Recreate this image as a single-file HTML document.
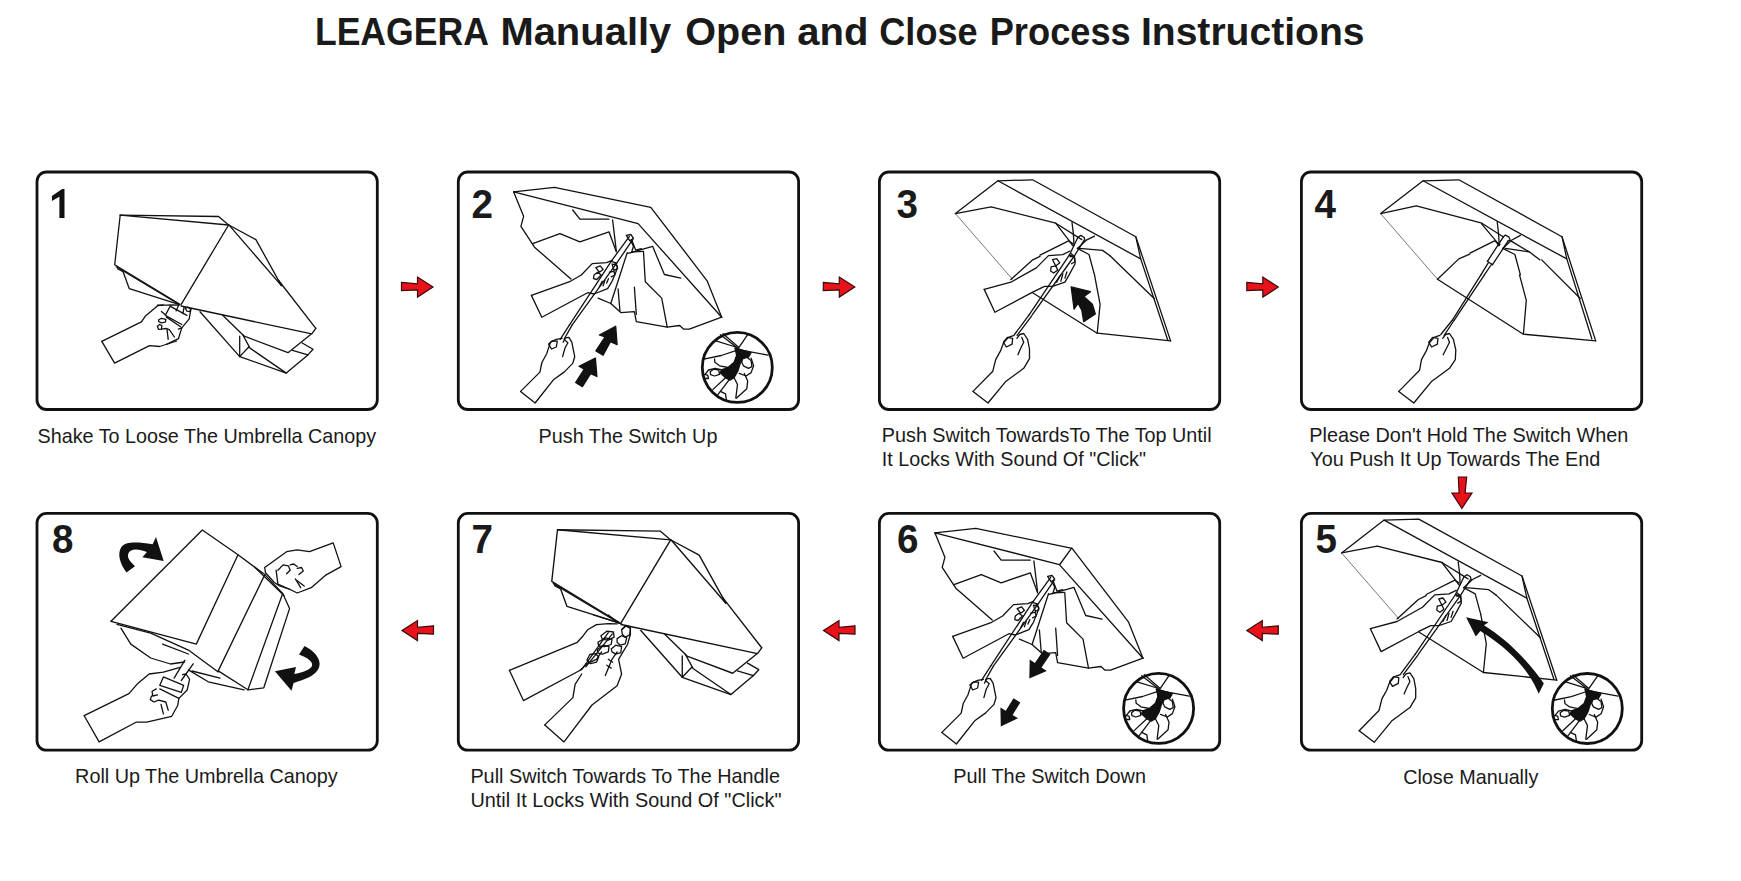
<!DOCTYPE html>
<html><head><meta charset="utf-8">
<style>
html,body{margin:0;padding:0;background:#fff;}
body{width:1741px;height:881px;overflow:hidden;position:relative;}
svg{position:absolute;left:0;top:0;}
.t{font-family:"Liberation Sans",sans-serif;fill:#1a1a1a;}
</style></head><body>
<svg width="1741" height="881" viewBox="0 0 1741 881">
<defs>
<path id="arR" d="M0 -4.2 L16 -2.6 L16 -9.5 L31.5 0.6 L16 10.6 L16 3.4 L0 4.2 Z"/>
</defs>
<g class="t" font-size="38.5" font-weight="bold" fill="#1f1c1d">
<text x="314.9" y="44.8" textLength="174.0" lengthAdjust="spacingAndGlyphs">LEAGERA</text>
<text x="500.4" y="44.8" textLength="170.9" lengthAdjust="spacingAndGlyphs">Manually</text>
<text x="685.3" y="44.8" textLength="101.1" lengthAdjust="spacingAndGlyphs">Open</text>
<text x="797.3" y="44.8" textLength="71.2" lengthAdjust="spacingAndGlyphs">and</text>
<text x="879.3" y="44.8" textLength="98.3" lengthAdjust="spacingAndGlyphs">Close</text>
<text x="989.7" y="44.8" textLength="141.1" lengthAdjust="spacingAndGlyphs">Process</text>
<text x="1140.9" y="44.8" textLength="223.7" lengthAdjust="spacingAndGlyphs">Instructions</text>
</g>
<g fill="none" stroke="#111" stroke-width="2.8">
<rect x="37" y="172" width="340.3" height="237.5" rx="9.5"/>
<rect x="458.3" y="172" width="340.3" height="237.5" rx="9.5"/>
<rect x="879.4" y="172" width="340.3" height="237.5" rx="9.5"/>
<rect x="1301.4" y="172" width="340.3" height="237.5" rx="9.5"/>
<rect x="37" y="513.4" width="340.3" height="236.8" rx="9.5"/>
<rect x="458.3" y="513.4" width="340.3" height="236.8" rx="9.5"/>
<rect x="879.4" y="513.4" width="340.3" height="236.8" rx="9.5"/>
<rect x="1301.4" y="513.4" width="340.3" height="236.8" rx="9.5"/>
</g>
<g class="t" font-size="41.5" font-weight="bold" fill="#111">
<text x="471.5" y="218" textLength="21.5" lengthAdjust="spacingAndGlyphs">2</text>
<text x="896.5" y="218" textLength="21.5" lengthAdjust="spacingAndGlyphs">3</text>
<text x="1314.5" y="218" textLength="21.5" lengthAdjust="spacingAndGlyphs">4</text>
<text x="52" y="553" textLength="21.5" lengthAdjust="spacingAndGlyphs">8</text>
<text x="471.5" y="552.5" textLength="21.5" lengthAdjust="spacingAndGlyphs">7</text>
<text x="897" y="553" textLength="21.5" lengthAdjust="spacingAndGlyphs">6</text>
<text x="1315.5" y="553" textLength="21.5" lengthAdjust="spacingAndGlyphs">5</text>
</g>
<g class="t" font-size="19.8">
<text x="37.5" y="442.6" textLength="338.6" lengthAdjust="spacingAndGlyphs">Shake To Loose The Umbrella Canopy</text>
<text x="538.6" y="442.6" textLength="178.8" lengthAdjust="spacingAndGlyphs">Push The Switch Up</text>
<text x="881.8" y="442.4" textLength="329.8" lengthAdjust="spacingAndGlyphs">Push Switch TowardsTo The Top Until</text>
<text x="881.8" y="465.7" textLength="264.2" lengthAdjust="spacingAndGlyphs">It Locks With Sound Of "Click"</text>
<text x="1309.3" y="442.4" textLength="319.0" lengthAdjust="spacingAndGlyphs">Please Don't Hold The Switch When</text>
<text x="1310.3" y="465.7" textLength="289.9" lengthAdjust="spacingAndGlyphs">You Push It Up Towards The End</text>
<text x="75.1" y="783.4" textLength="262.5" lengthAdjust="spacingAndGlyphs">Roll Up The Umbrella Canopy</text>
<text x="470.4" y="783.3" textLength="309.6" lengthAdjust="spacingAndGlyphs">Pull Switch Towards To The Handle</text>
<text x="470.4" y="806.7" textLength="311.1" lengthAdjust="spacingAndGlyphs">Until It Locks With Sound Of "Click"</text>
<text x="953.2" y="783.4" textLength="192.8" lengthAdjust="spacingAndGlyphs">Pull The Switch Down</text>
<text x="1403.2" y="783.6" textLength="135.1" lengthAdjust="spacingAndGlyphs">Close Manually</text>
</g>
<g fill="#e8121b" stroke="#3a0a0a" stroke-width="1.2" stroke-linejoin="miter">
<use href="#arR" transform="translate(401.5,286.5)"/>
<use href="#arR" transform="translate(823.3,286.5)"/>
<use href="#arR" transform="translate(1246.8,286.5)"/>
<use href="#arR" transform="translate(433.5,630) scale(-1,1)"/>
<use href="#arR" transform="translate(855,630) scale(-1,1)"/>
<use href="#arR" transform="translate(1278.3,630) scale(-1,1)"/>
<use href="#arR" transform="translate(1462.5,477) rotate(90)"/>
</g>
<path d="M62.1 189 L51.9 196.1 L51.9 200.9 L59.4 196.8 L59.4 217.9 L64.5 217.9 L64.5 189 Z" fill="#111"/>
<g fill="none" stroke="#111" stroke-width="1.3" stroke-linejoin="round" stroke-linecap="round">
<path d="M120.2 215.2 L218.6 216.5 L228.6 225"/>
<path d="M120.2 215.2 L228.6 225"/>
<path d="M120.2 215.2 L114.7 264.7 L179.9 304.3"/>
<path d="M116.2 266.8 L178.7 304.3"/>
<path d="M117.5 268.7 L123.1 271.8 L129.3 288.7 L178.7 304.3"/>
<path d="M228.6 225 L181.2 304.3"/>
<path d="M229.3 225.3 L255.9 239.6 L281.4 285.6"/>
<path d="M229.3 225.3 L281.4 285.6"/>
<path d="M278.3 280 L315.8 328.3"/>
<path d="M315.8 328.3 L311.8 333.9 L181 306"/>
<path d="M200 311.8 L239.7 356.6"/>
<path d="M222.7 315.2 L244.3 336.2 L288 352.7 L310.7 334.5"/>
<path d="M239.7 336.2 L239.7 356.6 L248.8 347"/>
<path d="M242.6 334.5 L250 348.1 L286.3 373.1"/>
<path d="M239.7 356.6 L286.3 373.1 L307.9 354.9 L313 349.3 L302.2 343"/>
<path d="M292.5 350.4 L307.9 354.9"/>
<path d="M101.8 341.4 L114.6 363.1 L149.5 345.7 L159.7 346.5 L176.7 341"/>
<path d="M101.8 341.4 L141.4 321.8 L145.2 316.3 L158 305.6 L163.1 305"/>
<path d="M157.4 305.2 L167 305.2 L171 304.9 L179.5 305.2"/>
<path d="M170.4 305.8 L165.3 315.4 L181.8 324.5"/>
<path d="M170.4 306.4 L186.9 315.4"/>
<path d="M166.5 317.1 L180.6 326.8"/>
<path d="M190.9 309.2 L189.2 318.8 L181.8 327.9 L178.4 338.7 L166.5 344.4"/>
<path d="M178.4 305.8 L176.1 310.9"/>
<path d="M184.1 306.9 L182.9 313.7"/>
<path d="M185.2 308.1 L188 307.2 L190.9 309.2 L189.7 311.5 L186.9 311.2 Z"/>
<path d="M158.5 320 L161.4 318.3 L165.9 319.4 L165.3 322.2 L161.4 322.8 L158.8 321.7 Z"/>
<path d="M157.4 326.2 L159.6 324.5 L161.9 325.6 L161.4 329.1 L158.5 329.3 Z"/>
<path d="M161.4 329.1 L166.5 328.5 L169.3 329.6 L174.4 337"/>
<path d="M167 329.1 L168.2 339.3"/>
<path d="M161.4 311.5 L164.8 314.3"/>
<path d="M181.8 327.9 L178.4 329.1"/>
<path d="M513.6 191.8 L554.5 187.3 L650.8 207.3 L707.1 280.8 L721.7 317.2"/>
<path d="M513.6 191.8 L638.1 223.6 L721.7 317.2"/>
<path d="M513.6 191.8 L523.6 216.3 L520.9 226.3 L534.5 247.2 L570.9 279"/>
<path d="M532.7 243.6 L560 233.6 L579.9 241.8 L609 231.8 L616.3 251.8"/>
<path d="M572.7 210 L579.9 219.1 L609 219.1"/>
<path d="M612.6 220 L616.3 250.9"/>
<path d="M630.8 252.7 L652.6 246.3 L664.4 274.5 L680.8 278.1"/>
<path d="M643.5 251.8 L645.3 281.7 L661.7 298.1 L667.2 327.2 L679.7 325.5 L683.7 329.2 L689.3 329.2 L721.7 317.2"/>
<path d="M627.2 252.7 L610.8 303.5"/>
<path d="M618.1 289 L619.9 310.8"/>
<path d="M634.4 287.2 L636.3 314.4"/>
<path d="M598.1 298.1 L610.8 303.5 L620.8 312.6 L634.4 311.7 L636.3 321.7 L667.2 327.2"/>
<path d="M626.3 235.4 L630.8 234.5 L633.5 238.1 L629.9 240.9 Z"/>
<path d="M569.5 324.9 L611.2 261.3 L629.4 236.4"/>
<path d="M572.2 324.9 L616.7 263.2 L633 239.1"/>
<path d="M611.2 261.3 L616.7 263.2"/>
<path d="M531.4 295.4 L541.8 317.2 L587.6 292.7 L594 294 L607.6 288.6 L612.1 281.3 L615.8 272.2 L617.6 266.8 L614.9 263.2"/>
<path d="M531.4 295.4 L570.4 281.3 L581.3 275 L592.2 263.6 L606.7 262.7 L612.1 260.4"/>
<path d="M595.8 267.7 L600.3 265.9 L603.1 269.5 L599.4 272.2 L595.8 267.7"/>
<path d="M594 275 L597.6 272.2 L601.2 275 L596.7 279.5 L593.5 278.6 L594 275"/>
<path d="M612.1 264.1 L616.7 265 L617.6 268.6 L614 270.4 L612.1 264.1"/>
<path d="M609.4 272.2 L614 271.3 L614.9 275 L611.2 276.8"/>
<path d="M599.4 286.8 L602.2 281.3"/>
<path d="M603.1 285.8 L604.9 280.4"/>
<path d="M606.7 283.1 L608.5 278.6"/>
<path d="M520.6 391.4 L535.1 403 L553.4 379.8 L564.1 372.1 L572.7 363.4 L574.7 356.7 L571.8 342.2 L568.9 337.4 L565.5 337.9 L563.1 342.2"/>
<path d="M520.6 391.4 L539.9 372.1 L541.9 362.5 L546.7 353.8 L547.6 350.9 L550.5 342.2 L556.3 339.3 L562.1 338.3"/>
<path d="M565 340.3 L567.9 342.7 L565 348 L562.6 356.7"/>
<path d="M548.6 344.1 L552.5 340.8 L557.3 341.2 L556.3 347 L551.5 349 Z"/>
<path d="M560.2 339.3 L569.5 324.9"/>
<path d="M564.1 339.3 L572.2 324.9"/>
<path d="M631.8 239.9 L635.7 250.2 L641.3 248.6"/>
<path d="M627.8 253.4 L633.4 251.8 L643.3 251.4"/>
<path d="M630.6 240.3 L633.4 246.2 L631.8 251.8"/>
<path d="M595.4 358.1 L596.9 376.5 L590.6 373.6 L582.4 386.6 L575.6 382.5 L584.3 369.2 L579 366.3 Z" fill="#111"/>
<path d="M615.7 326.3 L617.1 344.6 L610.4 341.7 L603.1 355.2 L595.9 350.9 L605.1 336.9 L599.3 335 Z" fill="#111"/>
<g id="ins"><circle cx="737.3" cy="367.4" r="35" stroke-width="2.8"/>
<path d="M734.9 347.9 L751.1 352.6 L748.5 357.2 L742.6 358.1 L740 364.1 L737.9 370.9 L734.1 377.7 L729.8 380.2 L725.5 377.7 L720 372.6 L722.1 369.6 L728.1 367.5 L734.1 362.3 L736.6 355.5 L735.8 351.3 Z" fill="#111"/>
<path d="M720.4 334.7 L737.5 347.9"/>
<path d="M723 333.8 L738.3 347"/>
<path d="M714.9 340.6 L735.8 347"/>
<path d="M747.7 334.7 L738.3 348.3"/>
<path d="M738.3 349.6 L768.1 355.1"/>
<path d="M702.6 359.4 L721.3 355.5 L736.6 350.4"/>
<path d="M742.6 358.9 L746.8 357.2 L751.1 360.6 L751.9 366.6 L748.5 368.3 L743.4 365.8 L741.7 362.3 Z"/>
<path d="M751.1 358.1 L753.6 365.8 L751.1 372.6 L746 376 L739.2 373.4"/>
<path d="M714.5 358.9 L714.9 362.3 L719.6 365.8 L728.1 367.5"/>
<path d="M705.1 374.3 L708.5 370 L715.3 368.3 L722.1 370"/>
<path d="M710.2 371.7 L713.6 369.2 L718.7 370 L719.6 374.3 L714.5 376 L710.6 374.7 Z"/>
<path d="M703.4 374.3 L707.7 375.1 L708.5 378.5 L704.3 378.5"/>
<path d="M725.5 377.7 L712.8 389.6"/>
<path d="M728.9 380.2 L717.9 394.7"/>
<path d="M734.1 377.7 L737.5 384.5 L735.8 398.1"/>
<path d="M744.3 373.4 L747.7 381.1 L746.8 388.7 L736.6 398.1"/>
<path d="M720.4 391.3 L725.5 393.8 L726.4 399.8"/>
</g>
<path d="M955.4 213.6 L997.9 180.8 L1032.6 179.8 L1135.8 236.7 L1170.6 340.9"/>
<path d="M997.9 180.8 L1140.7 258.9 L1167.7 340"/>
<path d="M1135.8 236.7 L1140.7 258.9"/>
<path d="M955.4 213.6 L991.1 206.8 L1055.8 223.2 L1081.8 239.6"/>
<path d="M955.4 213.6 L1012.4 279.2" stroke-width="0.8" stroke="#555"/>
<path d="M1032.6 292.7 L1097.2 333.2 L1170.6 340.9"/>
<path d="M1094.5 274.9 L1100.1 304.3 L1097.2 333.2"/>
<path d="M1110 255.8 L1154.2 298.5"/>
<path d="M1010.8 279.6 L1032.2 260.2 L1040 256.3"/>
<path d="M984.2 289.4 L994.9 312.3 L1032.2 292.4 L1044.5 286.3 L1052.6 286.3 L1064.9 282.2 L1069 275.1 L1075.1 263.8 L1074.6 256.7 L1071 253.6"/>
<path d="M984.2 289.4 L1010.8 282.2 L1036.3 267.9 L1048.5 255.6 L1062.8 254.6 L1070 251"/>
<path d="M1052.6 259.7 L1056.7 258.7 L1059.8 262.8 L1055.7 265.9 L1052.6 259.7"/>
<path d="M1051.1 266.9 L1055.7 265.9 L1057.7 269.9 L1053.7 273 L1050.6 271 L1051.1 266.9"/>
<path d="M1070 256.7 L1074.1 256.7 L1075.1 261.8 L1071.5 263.8"/>
<path d="M1056.7 282.2 L1059.8 276.1"/>
<path d="M1060.8 281.2 L1062.8 274"/>
<path d="M1064.9 278.1 L1066.9 272"/>
<path d="M1029.1 314.9 L1069.3 255.2"/>
<path d="M1032.2 314.9 L1074 256.5"/>
<path d="M1040 255.2 L1068.6 240.9 L1072.7 243.6"/>
<path d="M1077.4 248.4 L1089 254.5 L1094.5 274.9"/>
<path d="M1079.5 248.4 L1102.6 250.4 L1110 255.8"/>
<path d="M1055.7 223.2 L1069.3 240.9 L1072.7 245.6"/>
<path d="M1072 222.5 L1073.4 234.1 L1074 245.6"/>
<path d="M1094.5 236.1 L1086.3 240.2 L1077.4 248.4"/>
<path d="M1069.3 255.2 L1077.8 237.5"/>
<path d="M1074 256.5 L1084.2 240.2"/>
<path d="M1069.3 255.2 L1074 256.5"/>
<path d="M1077.8 237.5 L1080.8 235.4 L1084.2 237.5 L1084.9 240.2"/>
<path d="M973 391.4 L988 403 L1005.4 381.8 L1023.7 368.3 L1029.5 358.6 L1029.5 349 L1027.6 339.3 L1023.7 333.5 L1019.8 334.5 L1016.9 338.3"/>
<path d="M973 391.4 L992.8 371.2 L995.7 359.6 L1000.5 350.9 L1003.4 343.2 L1008.3 337.4 L1014.1 335.4"/>
<path d="M1021.8 337.4 L1023.7 342.2 L1020.8 348 L1017.9 354.7"/>
<path d="M1003.4 342.2 L1007.3 337.4 L1012.6 338.3 L1012.1 344.1 L1006.3 347 Z"/>
<path d="M1014.5 334.5 L1029.1 314.9"/>
<path d="M1017.1 335.4 L1031.7 315.8"/>
<path d="M1071.2 286.9 L1090.5 291.7 L1083.7 296.6 L1092.4 304.3 L1095.3 313.9 L1083.7 321.6 L1081.8 310.1 L1078 303.3 L1074.1 309.1 Z" fill="#111"/>
<path d="M1380.6 213.6 L1423.1 180.8 L1458.8 179.8 L1562 236.7 L1595.7 340.9"/>
<path d="M1423.1 180.8 L1566.8 258.9 L1591.9 339"/>
<path d="M1562 236.7 L1566.8 258.9"/>
<path d="M1380.6 213.6 L1416.3 205.9 L1481.9 223.2 L1503.1 236.7"/>
<path d="M1380.6 213.6 L1437.5 279.2" stroke-width="0.8" stroke="#555"/>
<path d="M1437.5 279.2 L1523.4 334.2 L1595.7 340.9"/>
<path d="M1437.5 279.2 L1458.8 258.9 L1469.7 254.1"/>
<path d="M1519.5 274.9 L1526.3 300.4 L1523.4 334.2"/>
<path d="M1541.7 259.9 L1580.3 298.5"/>
<path d="M1480.9 274.9 L1452.4 320.1"/>
<path d="M1484.4 274.9 L1454.3 320.1"/>
<path d="M1470 253.1 L1494.5 240.9 L1500 244.3"/>
<path d="M1502.7 248.4 L1514.9 254.5 L1520.4 274.9"/>
<path d="M1505.4 248.4 L1529.2 251.8 L1540 259.9"/>
<path d="M1481.6 223.8 L1495.9 240.9 L1498.6 245.6"/>
<path d="M1497.2 221.8 L1498.6 234.1 L1499.3 245.6"/>
<path d="M1520.4 235.4 L1511.5 240.2 L1502.7 248.4"/>
<path d="M1510.8 240.9 L1529.2 251.8"/>
<path d="M1487.4 261.3 L1503.4 236.8"/>
<path d="M1492.5 264.7 L1508.1 240.9"/>
<path d="M1487.4 261.3 L1492.5 264.7"/>
<path d="M1503.4 236.8 L1505.4 235.1 L1508.8 236.8 L1510.2 240.2 L1508.1 240.9"/>
<path d="M1480.9 274.9 L1488.4 262.7"/>
<path d="M1484.3 274.9 L1491.8 264"/>
<path d="M1398.8 391.4 L1413.8 403 L1431.2 381.8 L1449.5 368.3 L1455.3 359.6 L1455.8 349.9 L1453.4 339.3 L1449.5 333.5 L1445.6 334.5 L1442.7 338.3"/>
<path d="M1398.8 391.4 L1419.6 370.2 L1421.5 359.6 L1426.3 350.9 L1429.2 343.2 L1434.1 337.4 L1439.8 335.4"/>
<path d="M1447.6 337.4 L1449.5 342.2 L1446.6 348 L1443.2 354.7"/>
<path d="M1428.7 342.2 L1432.6 337.4 L1437.9 338.3 L1437.4 344.1 L1431.6 347 Z"/>
<path d="M1440.8 334.5 L1452.4 320"/>
<path d="M1444.2 335.4 L1454.3 320"/>
<path d="M111 621.3 L202.3 530 L238 554.8 L264.8 574.6 L282.7 593.5 L289.6 608.4 L263.8 687.8 L247.9 689.8 L218.2 670.9"/>
<path d="M238 554.8 L196.3 644.1 L111 621.3"/>
<path d="M264.8 574.6 L218.2 670.9"/>
<path d="M282.7 593.5 L247.9 689.8"/>
<path d="M116.9 624.3 L150.7 633.2 L188.4 650.1 L218.2 671.9"/>
<path d="M120.9 628.2 L130.8 644.1 L150.7 658 L170.5 664 L184.4 662"/>
<path d="M188.4 669.9 L208.2 681.8 L244 689.8"/>
<path d="M162.6 644.1 L188.4 654"/>
<path d="M264.7 567.5 L286.6 551.7 L297.2 549.9 L309.5 551.7 L333.2 542.9 L341.1 566.6 L325.3 575.4 L311.2 587.7 L297.2 593 L290.2 589.5 L279.6 586 L274.3 582.5 L265.5 572.8 L264.7 567.5"/>
<path d="M277.9 570.2 L283.1 564.9 L288.4 565.8 L290.2 570.2 L286.6 573.7"/>
<path d="M290.2 564.9 L293.7 564 L297.2 566.6"/>
<path d="M297.2 568.4 L301.6 567.5 L303.3 571 L298.9 574.6"/>
<path d="M295.4 578.9 L300.7 587.7"/>
<path d="M297.2 580.7 L304.2 586"/>
<path d="M276.1 570.2 L277.9 584.2 L290.2 589.5"/>
<path d="M255 567.5 L284 595.6"/>
<path d="M84.2 715.7 L99.1 741.9 L136 722.2 L146.7 722.2 L171.7 716.3 L177.7 705.5 L178.9 698.4 L187.2 690 L189.6 679.3 L186 674 L182.5 674.6"/>
<path d="M84.2 715.7 L128.9 693.6 L137.2 684.1 L149.1 674 L163.4 672.2 L180.1 667.4"/>
<path d="M163.4 676.9 L183.7 685.3 L181.3 692.4 L159.8 685.3 Z"/>
<path d="M159.8 688.9 L178.9 698.4"/>
<path d="M174.1 678.1 L184.8 660.3"/>
<path d="M181.3 680.5 L193.2 663.8"/>
<path d="M156.3 688.9 L152.1 691.2 L152.7 696 L157.4 694.8"/>
<path d="M151.5 696 L150.3 699.6 L153.9 702 L158.6 700.2 L165.8 702 L168.2 710.3"/>
<path d="M161 704.3 L163.4 713.9"/>
<path d="M192 671 L220 678.1"/>
<path fill="#111" stroke="none" d="M126.5 572.6 C120.2 564.1 116.8 553.9 121.4 547 C124.8 541.9 135.6 541.4 152.6 544.2 L156 537.1 L163.7 560.9 L142.4 557.3 L146.9 551.9 C138.4 548.7 130.4 548.2 128.2 553.8 C127 558.4 130.4 561.8 135 566.3 Z"/>
<path fill="#111" stroke="none" d="M304.5 646.1 C316.7 652.3 323.5 662.5 317.4 670.6 C313.3 676.1 305.8 679.5 293.6 682.9 L291.5 690.7 L274.9 671.3 L296 666.9 L294.3 674 C301.8 672.7 309.9 670 312 665.9 C313.3 661.8 307.2 657.7 299 654.6 Z"/>
<g transform="translate(557.5,529.7) scale(1.044) translate(-120.2,-215.2)">
<path d="M120.2 215.2 L218.6 216.5 L228.6 225"/>
<path d="M120.2 215.2 L228.6 225"/>
<path d="M120.2 215.2 L114.7 264.7 L179.9 304.3"/>
<path d="M116.2 266.8 L178.7 304.3"/>
<path d="M117.5 268.7 L123.1 271.8 L129.3 288.7 L178.7 304.3"/>
<path d="M228.6 225 L181.2 304.3"/>
<path d="M229.3 225.3 L255.9 239.6 L281.4 285.6"/>
<path d="M229.3 225.3 L281.4 285.6"/>
<path d="M278.3 280 L315.8 328.3"/>
<path d="M315.8 328.3 L311.8 333.9 L181 306"/>
<path d="M200 311.8 L239.7 356.6"/>
<path d="M222.7 315.2 L244.3 336.2 L288 352.7 L310.7 334.5"/>
<path d="M239.7 336.2 L239.7 356.6 L248.8 347"/>
<path d="M242.6 334.5 L250 348.1 L286.3 373.1"/>
<path d="M239.7 356.6 L286.3 373.1 L307.9 354.9 L313 349.3 L302.2 343"/>
<path d="M292.5 350.4 L307.9 354.9"/>
</g>
<path d="M509.4 670.3 L577.3 642.3 L583.2 635.7 L587.6 629.8 L596.5 624.6 L608.3 623.6 L617.1 623.9"/>
<path d="M509.4 670.3 L523.4 700.6 L580.2 670.3"/>
<path d="M580.2 670.3 L586.9 663.7 L596.5 659.3 L601.6 651.9"/>
<path d="M581.7 669.6 L608.3 632.7"/>
<path d="M585.8 666.9 L612.4 633.9"/>
<path d="M586.9 660 L589.8 654.5 L595.7 653.7 L598.7 657 L596.5 662.2 L590.6 663.7 Z"/>
<path d="M600.9 635.7 L606.8 631.2 L613.4 632 L614.2 637.1 L608.3 640.1 L602.4 639.3 Z"/>
<path d="M597.9 642.3 L605.3 637.9 L612 639.3 L611.2 644.5 L604.6 646.7 L598.7 646 Z"/>
<path d="M597.2 649.7 L603.1 645.2 L609 646.7 L608.3 651.9 L602.4 654.1 L597.9 653.1 Z"/>
<path d="M544.8 724.9 L564 741.9 L592 705 L617.1 685.8 L621.6 674 L618.6 659.3 L623 651.9 L627.5 644.5 L630.4 634.2 L630.4 626.8 L626 625.3 L621.6 629.8"/>
<path d="M544.8 724.9 L572.9 697.6 L575.1 684.3 L581.7 674"/>
<path d="M617.1 651.9 L612 659.3 L605.3 675.5"/>
<path d="M608.3 659.3 L612.7 662.2"/>
<path d="M606.8 665.2 L611.2 668.1"/>
<path d="M621.6 629.8 L626 626.1 L630.4 628.3 L629.7 634.9 L625.2 637.1 L622.3 634.2 Z"/>
<path d="M617.1 638.6 L621.6 635.7 L626.7 637.9 L625.2 643.8 L620.1 645.2 L617.1 642.3 Z"/>
<path d="M611.2 648.9 L615.7 645.2 L621.6 646.7 L620.8 652.6 L615.7 654.1 L612 651.9 Z"/>
<path d="M593.5 615 L621.6 623.9"/>
<path d="M608.3 615 L618.6 623.1"/>
<g transform="translate(421.3,341)">
<path d="M513.6 191.8 L554.5 187.3 L650.8 207.3 L707.1 280.8 L721.7 317.2"/>
<path d="M513.6 191.8 L638.1 223.6 L721.7 317.2"/>
<path d="M513.6 191.8 L523.6 216.3 L520.9 226.3 L534.5 247.2 L570.9 279"/>
<path d="M532.7 243.6 L560 233.6 L579.9 241.8 L609 231.8 L616.3 251.8"/>
<path d="M572.7 210 L579.9 219.1 L609 219.1"/>
<path d="M612.6 220 L616.3 250.9"/>
<path d="M630.8 252.7 L652.6 246.3 L664.4 274.5 L680.8 278.1"/>
<path d="M643.5 251.8 L645.3 281.7 L661.7 298.1 L667.2 327.2 L679.7 325.5 L683.7 329.2 L689.3 329.2 L721.7 317.2"/>
<path d="M627.2 252.7 L610.8 303.5"/>
<path d="M618.1 289 L619.9 310.8"/>
<path d="M634.4 287.2 L636.3 314.4"/>
<path d="M598.1 298.1 L610.8 303.5 L620.8 312.6 L634.4 311.7 L636.3 321.7 L667.2 327.2"/>
<path d="M626.3 235.4 L630.8 234.5 L633.5 238.1 L629.9 240.9 Z"/>
<path d="M569.5 324.9 L611.2 261.3 L629.4 236.4"/>
<path d="M572.2 324.9 L616.7 263.2 L633 239.1"/>
<path d="M611.2 261.3 L616.7 263.2"/>
<path d="M531.4 295.4 L541.8 317.2 L587.6 292.7 L594 294 L607.6 288.6 L612.1 281.3 L615.8 272.2 L617.6 266.8 L614.9 263.2"/>
<path d="M531.4 295.4 L570.4 281.3 L581.3 275 L592.2 263.6 L606.7 262.7 L612.1 260.4"/>
<path d="M595.8 267.7 L600.3 265.9 L603.1 269.5 L599.4 272.2 L595.8 267.7"/>
<path d="M594 275 L597.6 272.2 L601.2 275 L596.7 279.5 L593.5 278.6 L594 275"/>
<path d="M612.1 264.1 L616.7 265 L617.6 268.6 L614 270.4 L612.1 264.1"/>
<path d="M609.4 272.2 L614 271.3 L614.9 275 L611.2 276.8"/>
<path d="M599.4 286.8 L602.2 281.3"/>
<path d="M603.1 285.8 L604.9 280.4"/>
<path d="M606.7 283.1 L608.5 278.6"/>
<path d="M520.6 391.4 L535.1 403 L553.4 379.8 L564.1 372.1 L572.7 363.4 L574.7 356.7 L571.8 342.2 L568.9 337.4 L565.5 337.9 L563.1 342.2"/>
<path d="M520.6 391.4 L539.9 372.1 L541.9 362.5 L546.7 353.8 L547.6 350.9 L550.5 342.2 L556.3 339.3 L562.1 338.3"/>
<path d="M565 340.3 L567.9 342.7 L565 348 L562.6 356.7"/>
<path d="M548.6 344.1 L552.5 340.8 L557.3 341.2 L556.3 347 L551.5 349 Z"/>
<path d="M560.2 339.3 L569.5 324.9"/>
<path d="M564.1 339.3 L572.2 324.9"/>
<path d="M631.8 239.9 L635.7 250.2 L641.3 248.6"/>
<path d="M627.8 253.4 L633.4 251.8 L643.3 251.4"/>
<path d="M630.6 240.3 L633.4 246.2 L631.8 251.8"/>
</g>
<use href="#ins" transform="translate(421.3,341)"/>
<path d="M1029.3 678.5 L1046.8 671 L1041.5 667.5 L1050.5 654.2 L1043.8 649.7 L1034.9 663 L1029.7 659.5 Z" fill="#111" stroke="none"/>
<path d="M1000.8 726.4 L1018 718.2 L1012.6 714.9 L1020.3 702.4 L1013.5 698.2 L1005.8 710.7 L1000.4 707.4 Z" fill="#111" stroke="none"/>
<path d="M1059.8 564.5 L1071.6 548.1"/>
<g transform="translate(386.2,339.3)">
<path d="M955.4 213.6 L997.9 180.8 L1032.6 179.8 L1135.8 236.7 L1170.6 340.9"/>
<path d="M997.9 180.8 L1140.7 258.9 L1167.7 340"/>
<path d="M1135.8 236.7 L1140.7 258.9"/>
<path d="M955.4 213.6 L991.1 206.8 L1055.8 223.2 L1081.8 239.6"/>
<path d="M955.4 213.6 L1012.4 279.2" stroke-width="0.8" stroke="#555"/>
<path d="M1032.6 292.7 L1097.2 333.2 L1170.6 340.9"/>
<path d="M1094.5 274.9 L1100.1 304.3 L1097.2 333.2"/>
<path d="M1110 255.8 L1154.2 298.5"/>
<path d="M1010.8 279.6 L1032.2 260.2 L1040 256.3"/>
<path d="M984.2 289.4 L994.9 312.3 L1032.2 292.4 L1044.5 286.3 L1052.6 286.3 L1064.9 282.2 L1069 275.1 L1075.1 263.8 L1074.6 256.7 L1071 253.6"/>
<path d="M984.2 289.4 L1010.8 282.2 L1036.3 267.9 L1048.5 255.6 L1062.8 254.6 L1070 251"/>
<path d="M1052.6 259.7 L1056.7 258.7 L1059.8 262.8 L1055.7 265.9 L1052.6 259.7"/>
<path d="M1051.1 266.9 L1055.7 265.9 L1057.7 269.9 L1053.7 273 L1050.6 271 L1051.1 266.9"/>
<path d="M1070 256.7 L1074.1 256.7 L1075.1 261.8 L1071.5 263.8"/>
<path d="M1056.7 282.2 L1059.8 276.1"/>
<path d="M1060.8 281.2 L1062.8 274"/>
<path d="M1064.9 278.1 L1066.9 272"/>
<path d="M1029.1 314.9 L1069.3 255.2"/>
<path d="M1032.2 314.9 L1074 256.5"/>
<path d="M1040 255.2 L1068.6 240.9 L1072.7 243.6"/>
<path d="M1077.4 248.4 L1089 254.5 L1094.5 274.9"/>
<path d="M1079.5 248.4 L1102.6 250.4 L1110 255.8"/>
<path d="M1055.7 223.2 L1069.3 240.9 L1072.7 245.6"/>
<path d="M1072 222.5 L1073.4 234.1 L1074 245.6"/>
<path d="M1094.5 236.1 L1086.3 240.2 L1077.4 248.4"/>
<path d="M1069.3 255.2 L1077.8 237.5"/>
<path d="M1074 256.5 L1084.2 240.2"/>
<path d="M1069.3 255.2 L1074 256.5"/>
<path d="M1077.8 237.5 L1080.8 235.4 L1084.2 237.5 L1084.9 240.2"/>
<path d="M973 391.4 L988 403 L1005.4 381.8 L1023.7 368.3 L1029.5 358.6 L1029.5 349 L1027.6 339.3 L1023.7 333.5 L1019.8 334.5 L1016.9 338.3"/>
<path d="M973 391.4 L992.8 371.2 L995.7 359.6 L1000.5 350.9 L1003.4 343.2 L1008.3 337.4 L1014.1 335.4"/>
<path d="M1021.8 337.4 L1023.7 342.2 L1020.8 348 L1017.9 354.7"/>
<path d="M1003.4 342.2 L1007.3 337.4 L1012.6 338.3 L1012.1 344.1 L1006.3 347 Z"/>
<path d="M1014.5 334.5 L1029.1 314.9"/>
<path d="M1017.1 335.4 L1031.7 315.8"/>
</g>
<use href="#ins" transform="translate(850,341.1)"/>

<path fill="#111" stroke="none" d="M1466.1 617.2 L1488.6 622.3 L1484 625.3 C1502.9 636.6 1525.4 657 1543.8 683.5 L1538.7 693.8 C1531.5 676.4 1517.2 653.9 1480.4 630.9 L1475.8 636.6 Z"/>
</g>
</svg>
</body></html>
